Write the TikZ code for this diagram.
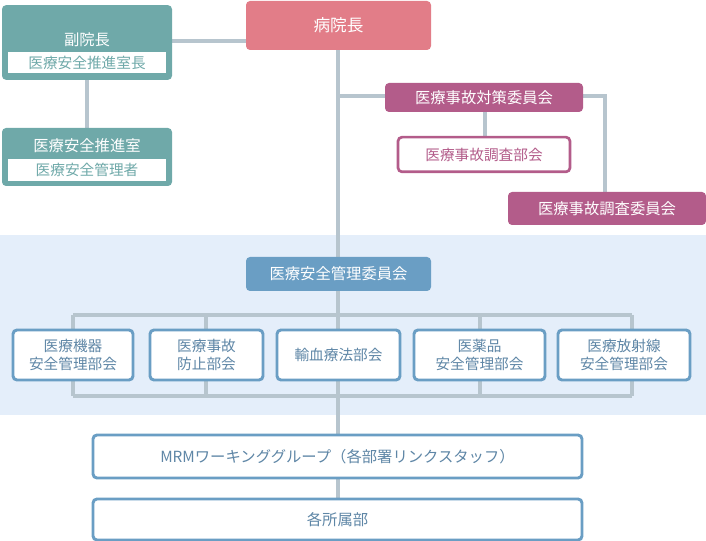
\documentclass[tikz,border=0pt]{standalone}
\usepackage{fontspec}
\setmainfont{Noto Sans CJK JP}
\usetikzlibrary{positioning}
\definecolor{teal}{HTML}{6FA9A9}
\definecolor{rose}{HTML}{E27D88}
\definecolor{plum}{HTML}{B35C8A}
\definecolor{steel}{HTML}{6A9EC4}
\definecolor{band}{HTML}{E4EEFA}
\definecolor{wire}{HTML}{B7C5CE}
\definecolor{steeltxt}{HTML}{5E86A6}

\begin{document}
\begin{tikzpicture}[x=0.75pt,y=-0.75pt,font=\fontsize{11}{13}\selectfont]
  \tikzstyle{box}=[rounded corners=3pt,inner sep=0pt,text centered]
  \tikzstyle{head}=[box,text=white,font=\fontsize{11.5}{13}\selectfont]
  \tikzstyle{sub}=[box,fill=white,draw=steel,line width=2.2pt,text=steeltxt,align=center,font=\fontsize{11}{13}\selectfont]
  \tikzstyle{link}=[draw=wire,line width=3pt]

  \useasboundingbox (0,0) rectangle (706,541);
  \fill[band] (0,235) rectangle (706,415);

  % wires first
  \draw[link] (172,41) -- (246,41);
  \draw[link] (87,80) -- (87,128);
  \draw[link] (338,50) -- (338,435);
  \draw[link] (338,96) -- (385,96);
  \draw[link] (485,112) -- (485,137);
  \draw[link] (583,96) -- (605,96) -- (605,192);
  \draw[link] (73,315) -- (632,315);
  \draw[link] (73,396) -- (632,396);
  \foreach \x in {73,206,338,480,632}
    \draw[link] (\x,315) -- (\x,396);
  \draw[link] (338,478) -- (338,499);

  % top
  \node[head,fill=rose,minimum width=138.75pt,minimum height=36.75pt,font=\fontsize{12.5}{14}\selectfont] (chief) at (338.5,25.5) {病院長};

  \node[box,fill=teal,minimum width=127.5pt,minimum height=56pt] (vice) at (87,42.5) {};
  \node[text=white,font=\fontsize{11.5}{13}\selectfont] (viceT) at (87,40) {副院長};
  \node[box,rounded corners=0pt,fill=white,minimum width=118pt,minimum height=16pt,text=teal] (viceS) at (87,62.5) {医療安全推進室長};
  \node[box,fill=teal,minimum width=127.5pt,minimum height=43.5pt] (office) at (87,157) {};
  \node[text=white,font=\fontsize{11.5}{13}\selectfont] (officeT) at (87,146) {医療安全推進室};
  \node[box,rounded corners=0pt,fill=white,minimum width=118pt,minimum height=17pt,text=teal] (officeS) at (87,170) {医療安全管理者};

  \node[head,fill=plum,minimum width=148.5pt,minimum height=21.75pt] (taisaku) at (484,97.5) {医療事故対策委員会};
  \node[box,fill=white,draw=plum,line width=2pt,text=plum,minimum width=129pt,minimum height=26pt] (bukai) at (484,154.5) {医療事故調査部会};
  \node[head,fill=plum,minimum width=148.5pt,minimum height=24.75pt] (chosa) at (607,208.5) {医療事故調査委員会};

  % safety committee
  \node[head,fill=steel,minimum width=138.75pt,minimum height=25.5pt] (anzen) at (338.5,274) {医療安全管理委員会};
  \node[sub,minimum width=90pt,minimum height=37.5pt] (kiki) at (73,355) {医療機器\\安全管理部会};
  \node[sub,minimum width=84.75pt,minimum height=37.5pt] (boshi) at (206.5,355) {医療事故\\防止部会};
  \node[sub,minimum width=92.25pt,minimum height=37.5pt] (yuketsu) at (338.5,355) {輸血療法部会};
  \node[sub,minimum width=98.25pt,minimum height=37.5pt] (yaku) at (479.5,355) {医薬品\\安全管理部会};
  \node[sub,minimum width=99pt,minimum height=37.5pt] (hosha) at (624,355) {医療放射線\\安全管理部会};

  % bottom
  \node[sub,minimum width=366.75pt,minimum height=32.25pt,font=\fontsize{11.5}{13}\selectfont] (mrm) at (337.5,456.5) {MRMワーキンググループ（各部署リンクスタッフ）};
  \node[sub,minimum width=366.75pt,minimum height=30.75pt,font=\fontsize{11.5}{13}\selectfont] (each) at (337.5,519.5) {各所属部};
\end{tikzpicture}
\end{document}
